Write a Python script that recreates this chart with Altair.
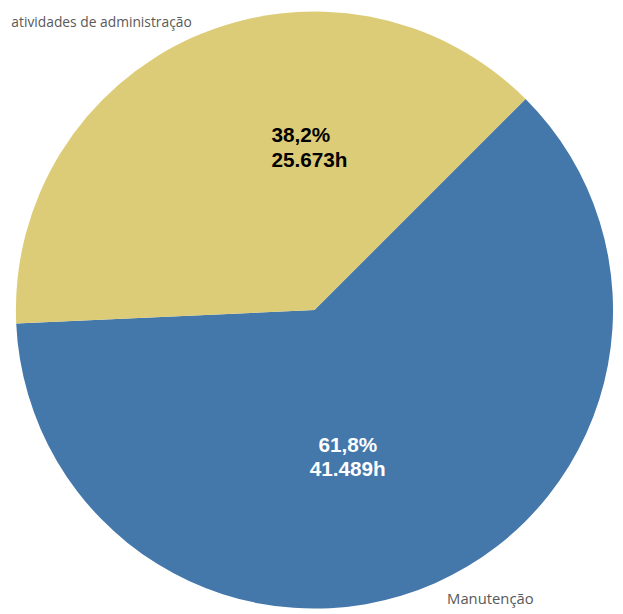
import altair as alt
import pandas as pd

categorias = ["Manutenção", "Atividades de administração"]
rotulos_externos = ["Manutenção", "atividades de administração"]
horas = [41489, 25673]
ordem = [1, 2]
cores = ["#4477aa", "#ddcc77"]

total = sum(horas)

def fmt_pct(v):
    return f"{v * 100:.1f}".replace(".", ",") + "%"

def fmt_h(v):
    return f"{v:,}".replace(",", ".") + "h"

rotulos = [fmt_pct(h / total) + "\n" + fmt_h(h) for h in horas]

df = pd.DataFrame({
    "categoria": categorias,
    "externo": rotulos_externos,
    "horas": horas,
    "ordem": ordem,
    "rotulo": rotulos,
})

CX, CY, R = 310.5, 302, 302.5
START = 0.785398

theta = alt.Theta("horas:Q", stack=True, scale=alt.Scale(range=[START, START + 6.283185]))
order = alt.Order("ordem:Q")

base = alt.Chart(df).encode(theta=theta, order=order, x=alt.value(CX), y=alt.value(CY))

arcs = base.mark_arc(outerRadius=R, stroke=None).encode(
    color=alt.Color("categoria:N", scale=alt.Scale(domain=categorias, range=cores), legend=None)
)

def show_only(cat):
    return alt.condition(alt.datum.categoria == cat, alt.value(1), alt.value(0))

inner_blue = base.mark_text(
    radius=148, dx=-26, dy=2, font="Liberation Sans", fontSize=21, fontWeight="bold",
    color="white", align="center", baseline="middle", lineBreak="\n", lineHeight=25
).encode(text="rotulo:N", opacity=show_only(categorias[0]))

inner_yellow = base.mark_text(
    radius=160, dx=21, dy=-30, font="Liberation Sans", fontSize=21, fontWeight="bold",
    color="black", align="left", baseline="middle", lineBreak="\n", lineHeight=25
).encode(text="rotulo:N", opacity=show_only(categorias[1]))

outer_blue = base.mark_text(
    radius=318, dx=6, dy=2, font="Open Sans", fontSize=15, color="#595959",
    align="left", baseline="middle"
).encode(text="externo:N", opacity=show_only(categorias[0]))

outer_yellow = base.mark_text(
    radius=318, dx=4, font="Open Sans", fontSize=14, color="#595959",
    align="right", baseline="middle"
).encode(text="externo:N", opacity=show_only(categorias[1]))

chart = alt.layer(arcs, inner_blue, inner_yellow, outer_blue, outer_yellow).properties(
    width=615, height=606, autosize=alt.AutoSizeParams(type="none"), padding=0
).configure_view(stroke=None)

chart.save("out.html", embed_options={"renderer": "svg", "actions": False})
